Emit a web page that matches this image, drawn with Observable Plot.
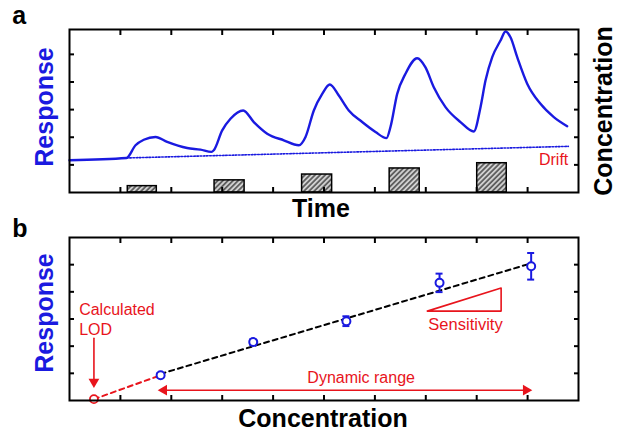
<!DOCTYPE html>
<html>
<head>
<meta charset="utf-8">
<script src="https://cdn.jsdelivr.net/npm/d3@7"></script>
<script src="https://cdn.jsdelivr.net/npm/@observablehq/plot@0.6"></script>
<style>
  body { margin: 0; background: #fff; }
  #chart { width: 624px; height: 433px; background: #fff; }
  #chart svg { display: block; }
</style>
</head>
<body>
<div id="chart"></div>
<script>
// ---------- Panel a : sensor response vs time ----------
const timeX = [0, 1.12, 1.297, 1.46, 1.69, 1.919, 2.312, 2.574, 2.79, 2.835, 3.0, 3.163, 3.413, 3.621, 3.884, 4.21, 4.505, 4.637, 4.8, 4.965, 5.114, 5.291, 5.487, 5.75, 6.012, 6.228, 6.306, 6.438, 6.601, 6.831, 6.994, 7.157, 7.387, 7.682, 7.943, 8.075, 8.173, 8.305, 8.468, 8.566, 8.664, 8.796, 8.992, 9.253, 9.515, 9.778];
const responseY = [1.17, 1.25, 1.71, 1.91, 2.01, 1.83, 1.61, 1.55, 1.47, 1.53, 2.25, 2.67, 2.97, 2.55, 2.13, 1.89, 1.71, 2.01, 2.97, 3.57, 3.91, 3.51, 2.97, 2.55, 2.19, 1.97, 2.37, 3.57, 4.30, 4.86, 4.53, 3.81, 3.09, 2.55, 2.21, 3.09, 4.05, 4.90, 5.50, 5.83, 5.62, 4.90, 3.94, 3.21, 2.73, 2.40];
const driftX = [1.12, 9.80];
const driftY = [1.25, 1.67];
const pulseStart = [1.145, 2.85, 4.57, 6.29, 8.01];
const pulseEnd = [1.715, 3.44, 5.16, 6.88, 8.59];
const pulseConc = [0.23, 0.44, 0.65, 0.87, 1.06];

// ---------- Panel b : calibration ----------
const concX = [1.79, 3.61, 5.44, 7.27, 9.07];
const respY = [0.93, 2.15, 2.92, 4.33, 4.94];
const respErr = [0.08, 0.10, 0.18, 0.34, 0.49];
const lodX = [0.48];
const lodY = [0.05];
const fitX = [1.79, 9.07];
const fitY = [0.98, 5.05];
const extrapX = [0.48, 1.79];
const extrapY = [0.05, 0.93];
const rangeX = [1.80, 9.00];
const rangeY = [0.38, 0.38];
const rangeHeadX = [1.855, 8.97];
const rangeHeadRot = [-90, 90];
const lodArrowY = [2.29, 0.72];
const lodHeadY = [0.69];
const sensX = [7.03, 8.48, 8.48, 7.03];
const sensY = [3.29, 3.29, 4.14, 3.29];

const xTicks = [1, 2, 3, 4, 5, 6, 7, 8, 9];
const yTicks = [1, 2, 3, 4, 5];

const BLUE = "#1a1ae0";
const RED = "#e8141c";
const FONT = "'Liberation Sans', Arial, Helvetica, sans-serif";

function frameAndTicks() {
  const o = {tickSize: 5, tickFormat: () => "", strokeWidth: 2, label: null};
  return [
    Plot.axisX(xTicks, {...o, anchor: "bottom", dy: -5}),
    Plot.axisX(xTicks, {...o, anchor: "top", dy: 5}),
    Plot.axisY(yTicks, {...o, anchor: "left", dx: 5}),
    Plot.axisY(yTicks, {...o, anchor: "right", dx: -5}),
    Plot.frame({stroke: "black", strokeWidth: 2})
  ];
}

const curve = timeX.map((x, i) => ({x, y: responseY[i]}));
const drift = driftX.map((x, i) => ({x, y: driftY[i]}));
const pulses = pulseStart.map((s, i) => ({x1: s, x2: pulseEnd[i], h: pulseConc[i]}));

const plotA = Plot.plot({
  width: 624, height: 218,
  marginLeft: 69, marginRight: 46, marginTop: 29, marginBottom: 26,
  x: {domain: [0, 10]},
  y: {domain: [0, 5.9]},
  style: {fontFamily: FONT, background: "white", overflow: "visible", color: "black"},
  marks: [
    Plot.rect(pulses, {x1: "x1", x2: "x2", y1: () => 0, y2: "h", fill: "url(#hatch)", stroke: "black", strokeWidth: 1.5}),
    Plot.line(drift, {x: "x", y: "y", stroke: BLUE, strokeWidth: 1.6, strokeDasharray: "1.6,1.6"}),
    Plot.line(curve, {x: "x", y: "y", stroke: BLUE, strokeWidth: 2.4, curve: "monotone-x"}),
    Plot.text([{x: 9.80, y: 1.01, t: "Drift"}], {x: "x", y: "y", text: "t", textAnchor: "end", lineAnchor: "bottom", fill: RED, fontSize: 16}),
    ...frameAndTicks(),
    Plot.text(["a"], {text: d => d, frameAnchor: "top-left", dx: -57.3, dy: -5.7, textAnchor: "start", lineAnchor: "bottom", fontSize: 25, fontWeight: "bold", fill: "black"}),
    Plot.text(["Response"], {text: d => d, frameAnchor: "left", rotate: -90, dx: -25, dy: -4, textAnchor: "middle", lineAnchor: "middle", fontSize: 25, fontWeight: "bold", fill: BLUE}),
    Plot.text(["Concentration"], {text: d => d, frameAnchor: "right", rotate: -90, dx: 25, dy: 0, textAnchor: "middle", lineAnchor: "middle", fontSize: 25, fontWeight: "bold", fill: "black"}),
    Plot.text(["Time"], {text: d => d, frameAnchor: "bottom", dx: -3, dy: 24.5, textAnchor: "middle", lineAnchor: "bottom", fontSize: 25, fontWeight: "bold", fill: "black"})
  ]
});

const pts = concX.map((x, i) => ({x, y: respY[i], lo: respY[i] - respErr[i], hi: respY[i] + respErr[i]}));
const fit = fitX.map((x, i) => ({x, y: fitY[i]}));
const extrap = extrapX.map((x, i) => ({x, y: extrapY[i]}));
const range = rangeX.map((x, i) => ({x, y: rangeY[i]}));
const rangeHeads = rangeHeadX.map((x, i) => ({x, y: rangeY[0], r: rangeHeadRot[i]}));
const lodArrow = lodArrowY.map(y => ({x: lodX[0], y}));
const sens = sensX.map((x, i) => ({x, y: sensY[i]}));
const lod = lodX.map((x, i) => ({x, y: lodY[i]}));

const plotB = Plot.plot({
  width: 624, height: 215,
  marginLeft: 69, marginRight: 46, marginTop: 19, marginBottom: 33,
  x: {domain: [0, 10]},
  y: {domain: [0, 6]},
  style: {fontFamily: FONT, background: "white", overflow: "visible", color: "black"},
  marks: [
    Plot.line(extrap, {x: "x", y: "y", stroke: RED, strokeWidth: 2, strokeDasharray: "5,4"}),
    Plot.line(fit, {x: "x", y: "y", stroke: "black", strokeWidth: 2, strokeDasharray: "5,4"}),
    Plot.line(range, {x: "x", y: "y", stroke: RED, strokeWidth: 1.6}),
    Plot.dot(rangeHeads, {x: "x", y: "y", symbol: "triangle", r: 4, fill: RED, stroke: "none", rotate: "r"}),
    Plot.line(lodArrow, {x: "x", y: "y", stroke: RED, strokeWidth: 1.6}),
    Plot.dot(lodArrow.slice(0, 1), {x: "x", y: () => lodHeadY[0], symbol: "triangle", r: 4, fill: RED, stroke: "none", rotate: 180}),
    Plot.line(sens, {x: "x", y: "y", stroke: RED, strokeWidth: 1.6}),
    Plot.ruleX(pts, {x: "x", y1: "lo", y2: "hi", stroke: BLUE, strokeWidth: 2}),
    Plot.ruleY(pts, {y: "hi", x1: "x", x2: "x", insetLeft: -3.5, insetRight: -3.5, stroke: BLUE, strokeWidth: 2}),
    Plot.ruleY(pts, {y: "lo", x1: "x", x2: "x", insetLeft: -3.5, insetRight: -3.5, stroke: BLUE, strokeWidth: 2}),
    Plot.dot(pts, {x: "x", y: "y", r: 4, stroke: BLUE, strokeWidth: 2, fill: "white"}),
    Plot.dot(lod, {x: "x", y: "y", r: 4, stroke: RED, strokeWidth: 1.8, fill: "white"}),
    Plot.text([{x: 0.19, y: 2.40, t: "Calculated\nLOD"}], {x: "x", y: "y", text: "t", textAnchor: "start", lineAnchor: "bottom", lineHeight: 1.25, fill: RED, fontSize: 16}),
    Plot.text([{x: 5.73, y: 0.63, t: "Dynamic range"}], {x: "x", y: "y", text: "t", textAnchor: "middle", lineAnchor: "bottom", fill: RED, fontSize: 16}),
    Plot.text([{x: 7.78, y: 2.59, t: "Sensitivity"}], {x: "x", y: "y", text: "t", textAnchor: "middle", lineAnchor: "bottom", fill: RED, fontSize: 16.5}),
    ...frameAndTicks(),
    Plot.text(["b"], {text: d => d, frameAnchor: "top-left", dx: -57.3, dy: -0.3, textAnchor: "start", lineAnchor: "bottom", fontSize: 25, fontWeight: "bold", fill: "black"}),
    Plot.text(["Response"], {text: d => d, frameAnchor: "left", rotate: -90, dx: -25, dy: -6, textAnchor: "middle", lineAnchor: "middle", fontSize: 25, fontWeight: "bold", fill: BLUE}),
    Plot.text(["Concentration"], {text: d => d, frameAnchor: "bottom", dx: -1, dy: 26.5, textAnchor: "middle", lineAnchor: "bottom", fontSize: 25, fontWeight: "bold", fill: "black"})
  ]
});

function svgOf(el) { return el.tagName.toLowerCase() === "svg" ? el : el.querySelector("svg"); }
const svgA = svgOf(plotA);
const ns = "http://www.w3.org/2000/svg";
const defs = document.createElementNS(ns, "defs");
defs.innerHTML = '<pattern id="hatch" patternUnits="userSpaceOnUse" width="3.6" height="3.6" patternTransform="rotate(45)">' +
  '<rect width="3.6" height="3.6" fill="#d0d0d0"/>' +
  '<line x1="0.9" y1="0" x2="0.9" y2="3.6" stroke="#333333" stroke-width="1.3"/></pattern>';
svgA.insertBefore(defs, svgA.firstChild);

const chart = document.getElementById("chart");
chart.appendChild(plotA);
chart.appendChild(plotB);
</script>
</body>
</html>
